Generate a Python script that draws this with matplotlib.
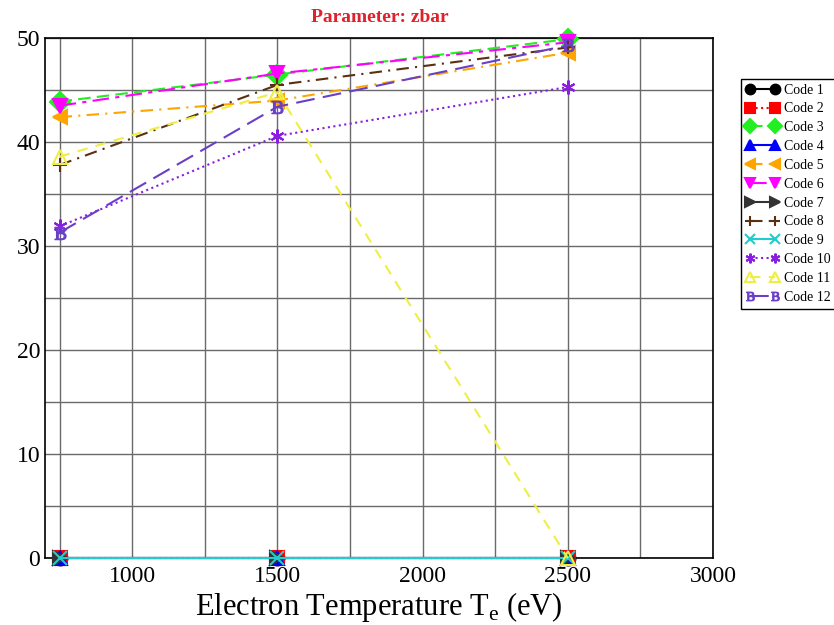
import matplotlib.pyplot as plt
import numpy as np

# Electron temperatures (eV)
temps = [750, 1500, 2500]

# zbar values per code
code1 = [0, 0, 0]
code2 = [0, 0, 0]
code3 = [43.9, 46.5, 49.9]
code4 = [0, 0, 0]
code5 = [42.4, 44.0, 48.6]
code6 = [43.5, 46.6, 49.6]
code7 = [0, 0, 0]
code8 = [37.8, 45.5, 49.1]
code9 = [0, 0, 0]
code10 = [31.9, 40.6, 45.3]
code11 = [38.6, 44.8, 0]
code12 = [31.3, 43.4, 49.3]

series = [code1, code2, code3, code4, code5, code6,
          code7, code8, code9, code10, code11, code12]
labels = ["Code %d" % (i + 1) for i in range(12)]

# Styles: colour, marker, linestyle
colors = ["black", "red", "#22ee22", "blue", "orange", "magenta",
          "#333333", "#5a3010", "#22cccc", "#8a1ee0", "#eeee44", "#6a3fc8"]
markers = ["o", "s", "D", "^", "<", "v", ">", "+", "x", (6, 2, 0), "^",
           "$\\mathregular{B}$"]
styles = ["-", ":", (0, (6, 3)), "-", (0, (6, 3, 1, 3)), (0, (8, 3, 2, 3)),
          "-", (0, (6, 3, 1, 3)), "-", ":", (0, (5, 4)), (0, (9, 4))]
fills = ["full"] * 10 + ["none", "full"]

plt.rcParams['font.family'] = ['Liberation Serif', 'DejaVu Serif']

fig = plt.figure(figsize=(8.34, 6.25), dpi=100)
ax = fig.add_axes([0.054, 0.107, 0.801, 0.832])

for i, ys in enumerate(series):
    ax.plot(temps, ys, color=colors[i], marker=markers[i], linestyle=styles[i],
            linewidth=1.5, markersize=10 if i != 11 else 9,
            fillstyle=fills[i], markeredgewidth=1.5 if i != 11 else 0.8,
            label=labels[i], clip_on=False, zorder=3)

ax.set_xlim(700, 3000)
ax.set_ylim(0, 50)
ax.set_xticks([1000, 1500, 2000, 2500, 3000])
ax.set_yticks([0, 10, 20, 30, 40, 50])
ax.set_xticks(np.arange(750, 3000, 250), minor=True)
ax.set_yticks(np.arange(0, 51, 5), minor=True)
ax.tick_params(which="both", length=0, labelsize=17)
ax.tick_params(axis="x", pad=6)
ax.grid(True, which="both", color="#6a6a6a", linewidth=1.0)
ax.set_axisbelow(True)
for s in ax.spines.values():
    s.set_linewidth(1.2)

ax.set_xlabel("Electron Temperature T$_\\mathregular{e}$ (eV)", fontsize=22, labelpad=2)
fig.text(0.455, 0.972, "Parameter: zbar", color="#e0202a", fontsize=14,
         fontweight="bold", ha="center", va="center")

fig.legend(loc="upper left", bbox_to_anchor=(0.889, 0.874), fontsize=10,
           frameon=True, fancybox=False, edgecolor="black", framealpha=1,
           numpoints=2, handlelength=2.4, borderpad=0.35, labelspacing=0.42,
           handletextpad=0.35, borderaxespad=0, markerscale=0.7)

plt.savefig("out.png")
